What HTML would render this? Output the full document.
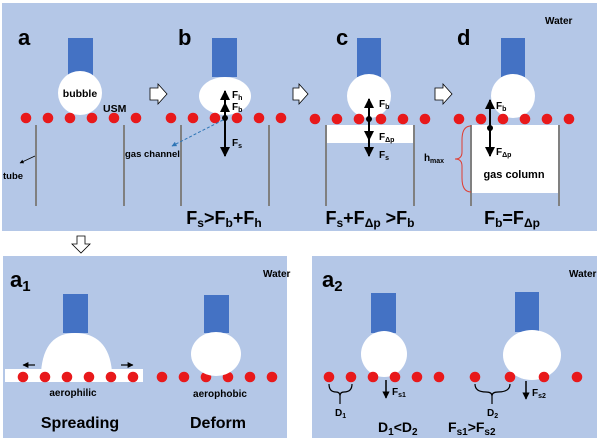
<!DOCTYPE html>
<html><head><meta charset="utf-8"><style>
html,body{margin:0;padding:0;background:#fff;}
svg{display:block;font-family:"Liberation Sans",Arial,sans-serif;font-weight:bold;}
</style></head><body>
<svg width="600" height="441" viewBox="0 0 600 441" xmlns="http://www.w3.org/2000/svg">
<defs>
<marker id="ah" viewBox="0 0 10 10" refX="9" refY="5" markerWidth="5" markerHeight="5" orient="auto"><path d="M0,0L10,5L0,10z" fill="#000"/></marker>
<marker id="ahb" viewBox="0 0 10 10" refX="9" refY="5" markerWidth="5" markerHeight="5" orient="auto"><path d="M0,0L10,5L0,10z" fill="#2e75b6"/></marker>
<g id="dots6"><circle cx="0" cy="0" r="5.3" fill="#e8191b"/><circle cx="22" cy="0" r="5.3" fill="#e8191b"/><circle cx="44" cy="0" r="5.3" fill="#e8191b"/><circle cx="66" cy="0" r="5.3" fill="#e8191b"/><circle cx="88" cy="0" r="5.3" fill="#e8191b"/><circle cx="110" cy="0" r="5.3" fill="#e8191b"/></g>
</defs>
<rect x="2" y="3" width="595" height="228" fill="#b4c7e7"/>
<rect x="3" y="256" width="284" height="182" fill="#b4c7e7"/>
<rect x="312" y="256" width="285" height="182" fill="#b4c7e7"/>

<!-- panel a -->
<text x="18" y="45" font-size="22">a</text>
<rect x="68" y="38" width="25" height="39" fill="#4472c4"/>
<circle cx="80" cy="93" r="22" fill="#fff"/>
<text x="80" y="97" font-size="10.5" text-anchor="middle">bubble</text>
<text x="103" y="112" font-size="10.5">USM</text>
<use href="#dots6" x="26" y="118"/>
<line x1="36" y1="125" x2="36" y2="206" stroke="#808080" stroke-width="2"/>
<line x1="124" y1="125" x2="124" y2="206" stroke="#808080" stroke-width="2"/>
<line x1="35" y1="156" x2="20" y2="163" stroke="#000" stroke-width="0.8" marker-end="url(#ah)"/>
<text x="3" y="179" font-size="9.5">tube</text>
<text x="125" y="157" font-size="9.5">gas channel</text>
<path d="M150,88h8v-4l9,10l-9,10v-4h-8z" fill="#fff" stroke="#000" stroke-width="0.8"/>

<!-- panel b -->
<text x="178" y="45" font-size="22">b</text>
<rect x="212" y="38" width="25" height="39" fill="#4472c4"/>
<ellipse cx="225" cy="96" rx="26" ry="19" fill="#fff"/>
<use href="#dots6" x="171" y="118"/>
<line x1="181" y1="125" x2="181" y2="206" stroke="#808080" stroke-width="2"/>
<line x1="269" y1="125" x2="269" y2="206" stroke="#808080" stroke-width="2"/>
<line x1="225" y1="118" x2="225" y2="91" stroke="#000" stroke-width="2" marker-end="url(#ah)"/>
<line x1="225" y1="118" x2="225" y2="103" stroke="#000" stroke-width="2" marker-end="url(#ah)"/>
<line x1="225" y1="118" x2="225" y2="156" stroke="#000" stroke-width="2" marker-end="url(#ah)"/>
<circle cx="225" cy="118" r="3" fill="#000"/>
<line x1="223" y1="120" x2="172" y2="146" stroke="#2e75b6" stroke-width="1" stroke-dasharray="3,2" marker-end="url(#ahb)"/>
<text x="232" y="98" font-size="10">F<tspan font-size="7" dy="2">h</tspan></text>
<text x="232" y="110" font-size="10">F<tspan font-size="7" dy="2">b</tspan></text>
<text x="232" y="146" font-size="10">F<tspan font-size="7" dy="2">s</tspan></text>
<text x="224" y="224" font-size="18" text-anchor="middle">F<tspan font-size="12" dy="3">s</tspan><tspan dy="-3">&gt;F</tspan><tspan font-size="12" dy="3">b</tspan><tspan dy="-3">+F</tspan><tspan font-size="12" dy="3">h</tspan></text>
<path d="M293,88h6v-4l9,10l-9,10v-4h-6z" fill="#fff" stroke="#000" stroke-width="0.8"/>

<!-- panel c -->
<text x="336" y="45" font-size="22">c</text>
<rect x="357" y="38" width="24" height="39" fill="#4472c4"/>
<circle cx="369" cy="96" r="22" fill="#fff"/>
<rect x="327" y="125" width="87" height="18" fill="#fff"/>
<use href="#dots6" x="315" y="119"/>
<line x1="326" y1="125" x2="326" y2="206" stroke="#808080" stroke-width="2"/>
<line x1="414" y1="125" x2="414" y2="206" stroke="#808080" stroke-width="2"/>
<line x1="369" y1="119" x2="369" y2="99" stroke="#000" stroke-width="2" marker-end="url(#ah)"/>
<line x1="369" y1="119" x2="369" y2="140" stroke="#000" stroke-width="2" marker-end="url(#ah)"/>
<line x1="369" y1="119" x2="369" y2="156" stroke="#000" stroke-width="2" marker-end="url(#ah)"/>
<circle cx="369" cy="119" r="3" fill="#000"/>
<text x="379" y="107" font-size="10">F<tspan font-size="7" dy="2">b</tspan></text>
<text x="379" y="140" font-size="10">F<tspan font-size="7" dy="2">Δp</tspan></text>
<text x="379" y="158" font-size="10">F<tspan font-size="7" dy="2">s</tspan></text>
<text x="370" y="224" font-size="18" text-anchor="middle">F<tspan font-size="12" dy="3">s</tspan><tspan dy="-3">+F</tspan><tspan font-size="12" dy="3">Δp</tspan><tspan dy="-3"> &gt;F</tspan><tspan font-size="12" dy="3">b</tspan></text>
<path d="M435,88h8v-4l9,10l-9,10v-4h-8z" fill="#fff" stroke="#000" stroke-width="0.8"/>

<!-- panel d -->
<text x="457" y="45" font-size="22">d</text>
<text x="545" y="24" font-size="10">Water</text>
<rect x="501" y="38" width="24" height="39" fill="#4472c4"/>
<circle cx="513" cy="96" r="22" fill="#fff"/>
<rect x="472" y="125" width="87" height="68" fill="#fff"/>
<use href="#dots6" x="459" y="119"/>
<line x1="471" y1="125" x2="471" y2="206" stroke="#808080" stroke-width="2"/>
<line x1="559" y1="125" x2="559" y2="206" stroke="#808080" stroke-width="2"/>
<line x1="490" y1="128" x2="490" y2="100" stroke="#000" stroke-width="2" marker-end="url(#ah)"/>
<line x1="490" y1="128" x2="490" y2="156" stroke="#000" stroke-width="2" marker-end="url(#ah)"/>
<circle cx="490" cy="128" r="3" fill="#000"/>
<text x="496" y="109" font-size="10">F<tspan font-size="7" dy="2">b</tspan></text>
<text x="496" y="155" font-size="10">F<tspan font-size="7" dy="2">Δp</tspan></text>
<text x="514" y="178" font-size="11" text-anchor="middle">gas column</text>
<text x="434" y="161" font-size="10" text-anchor="middle">h<tspan font-size="7" dy="2">max</tspan></text>
<path d="M471,126 Q462,126 462,140 L462,152 Q462,159 455,159 Q462,159 462,166 L462,178 Q462,192 471,192" fill="none" stroke="#e03c31" stroke-width="1"/>
<text x="512" y="224" font-size="18" text-anchor="middle">F<tspan font-size="12" dy="3">b</tspan><tspan dy="-3">=F</tspan><tspan font-size="12" dy="3">Δp</tspan></text>

<!-- down arrow -->
<path d="M77,236h8v8h5l-9,9l-9,-9h5z" fill="#fff" stroke="#000" stroke-width="0.8"/>

<!-- a1 -->
<text x="10" y="287" font-size="22">a<tspan font-size="15" dy="4">1</tspan></text>
<text x="263" y="277" font-size="10">Water</text>
<rect x="63" y="294" width="25" height="39" fill="#4472c4"/>
<path d="M41,372 C43,345 55,333 75,333 C96,333 110,345 112,372 Z" fill="#fff"/>
<rect x="5" y="369" width="138" height="13" fill="#fff"/>
<use href="#dots6" x="23" y="377"/>
<use href="#dots6" x="162" y="377"/>
<line x1="35" y1="365" x2="23" y2="365" stroke="#000" stroke-width="1.2" marker-end="url(#ah)"/>
<line x1="121" y1="365" x2="133" y2="365" stroke="#000" stroke-width="1.2" marker-end="url(#ah)"/>
<text x="73" y="396" font-size="10" text-anchor="middle">aerophilic</text>
<rect x="204" y="295" width="25" height="38" fill="#4472c4"/>
<ellipse cx="216" cy="354" rx="25" ry="22" fill="#fff"/>
<text x="220" y="397" font-size="10" text-anchor="middle">aerophobic</text>
<text x="80" y="428" font-size="16" text-anchor="middle">Spreading</text>
<text x="218" y="428" font-size="16" text-anchor="middle">Deform</text>

<!-- a2 -->
<text x="322" y="287" font-size="22">a<tspan font-size="15" dy="4">2</tspan></text>
<text x="569" y="277" font-size="10">Water</text>
<rect x="371" y="293" width="25" height="40" fill="#4472c4"/>
<ellipse cx="384" cy="354" rx="23" ry="23" fill="#fff"/>
<rect x="515" y="292" width="24" height="40" fill="#4472c4"/>
<ellipse cx="532" cy="355" rx="29" ry="25" fill="#fff"/>
<use href="#dots6" x="329" y="377"/>
<circle cx="475" cy="377" r="5.3" fill="#e8191b"/>
<circle cx="510" cy="377" r="5.3" fill="#e8191b"/>
<circle cx="544" cy="377" r="5.3" fill="#e8191b"/>
<circle cx="577" cy="377" r="5.3" fill="#e8191b"/>
<path d="M329,384 Q329,392 336,392 Q340,392 340,396 Q340,392 344,392 Q352,392 352,384 M340,395 V404" fill="none" stroke="#000" stroke-width="1.2"/>
<text x="335" y="416" font-size="10">D<tspan font-size="7" dy="2">1</tspan></text>
<path d="M475,384 Q475,392 486,392 Q492,392 492,396 Q492,392 498,392 Q510,392 510,384 M492,395 V404" fill="none" stroke="#000" stroke-width="1.2"/>
<text x="487" y="416" font-size="10">D<tspan font-size="7" dy="2">2</tspan></text>
<line x1="386" y1="380" x2="386" y2="398" stroke="#000" stroke-width="1.5" marker-end="url(#ah)"/>
<text x="392" y="395" font-size="10">F<tspan font-size="7" dy="2">s1</tspan></text>
<line x1="526" y1="381" x2="526" y2="399" stroke="#000" stroke-width="1.5" marker-end="url(#ah)"/>
<text x="532" y="396" font-size="10">F<tspan font-size="7" dy="2">s2</tspan></text>
<text x="378" y="432" font-size="14">D<tspan font-size="10" dy="3">1</tspan><tspan dy="-3">&lt;D</tspan><tspan font-size="10" dy="3">2</tspan></text>
<text x="448" y="432" font-size="14">F<tspan font-size="10" dy="3">s1</tspan><tspan dy="-3">&gt;F</tspan><tspan font-size="10" dy="3">s2</tspan></text>
</svg>
</body></html>
